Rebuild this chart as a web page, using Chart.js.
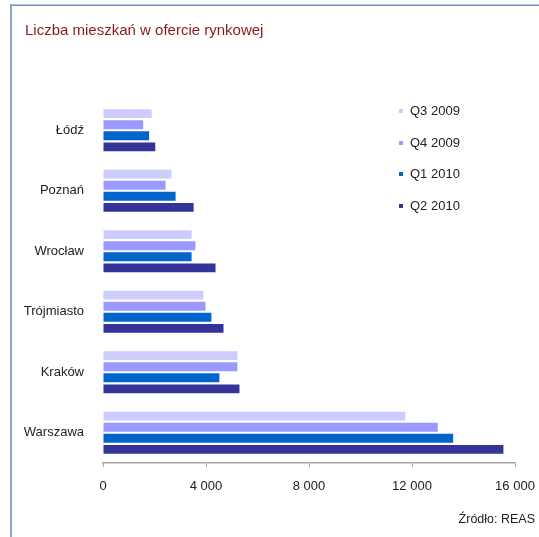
<!DOCTYPE html>
<html>
<head>
<meta charset="utf-8">
<script src="https://cdn.jsdelivr.net/npm/chart.js@4/dist/chart.umd.min.js"></script>
<style>
  html, body { margin: 0; padding: 0; background: #ffffff; }
  #wrap { position: relative; width: 539px; height: 537px; }
  canvas { display: block; }
</style>
</head>
<body>
<div id="wrap"><canvas id="c" width="539" height="537"></canvas></div>
<script>
const chartTitle = "Liczba mieszkań w ofercie rynkowej";
const sourceText = "Źródło: REAS";
const cities = ["Łódź", "Poznań", "Wrocław", "Trójmiasto", "Kraków", "Warszawa"];
const seriesNames = ["Q3 2009", "Q4 2009", "Q1 2010", "Q2 2010"];
const q3_2009 = [1890, 2660, 3440, 3900, 5220, 11740];
const q4_2009 = [1560, 2430, 3590, 3980, 5220, 13000];
const q1_2010 = [1790, 2820, 3440, 4210, 4520, 13600];
const q2_2010 = [2030, 3520, 4370, 4680, 5300, 15550];
const xTicks = [0, 4000, 8000, 12000, 16000];
const seriesColors = ["#ccccff", "#9999ff", "#0066cc", "#333399"];

const seriesValues = [q3_2009, q4_2009, q1_2010, q2_2010];
const FONT = "'Liberation Sans', Arial, Helvetica, sans-serif";

function fmt(v) {
  return String(v).replace(/\B(?=(\d{3})+(?!\d))/g, " ");
}

const decorPlugin = {
  id: 'decor',
  afterDraw(chart) {
    const ctx = chart.ctx;
    ctx.save();
    // frame
    ctx.fillStyle = '#b9c7df';
    ctx.fillRect(11, 4, 528, 1);
    ctx.fillStyle = '#6f8cc0';
    ctx.fillRect(11, 5, 528, 1);
    ctx.fillStyle = '#8ea3cb';
    ctx.fillRect(10, 4, 2, 533);
    // title
    ctx.fillStyle = '#8c1a1a';
    ctx.font = "15px " + FONT;
    ctx.textBaseline = 'middle';
    ctx.textAlign = 'left';
    ctx.fillText(chartTitle, 25, 31);
    // legend
    const ys = [111, 143, 174, 206];
    ctx.font = "13px " + FONT;
    chart.data.datasets.forEach((ds, i) => {
      ctx.fillStyle = ds.backgroundColor;
      ctx.fillRect(399, ys[i] - 2, 4, 4);
      ctx.fillStyle = '#222222';
      ctx.fillText(ds.label, 410, ys[i]);
    });
    // source
    ctx.textAlign = 'right';
    ctx.font = "12.5px " + FONT;
    ctx.fillStyle = '#222222';
    ctx.fillText(sourceText, 535, 520);
    ctx.restore();
  }
};

new Chart(document.getElementById('c'), {
  type: 'bar',
  data: {
    labels: cities,
    datasets: seriesNames.map((name, i) => ({
      label: name,
      data: seriesValues[i],
      backgroundColor: seriesColors[i],
      borderWidth: 0,
      categoryPercentage: 0.73,
      barPercentage: 0.8
    }))
  },
  options: {
    indexAxis: 'y',
    responsive: false,
    animation: false,
    devicePixelRatio: 1,
    layout: { padding: { left: 0, right: 24, top: 100, bottom: 34 } },
    plugins: {
      legend: { display: false },
      title: { display: false },
      tooltip: { enabled: false }
    },
    scales: {
      x: {
        min: xTicks[0],
        max: xTicks[xTicks.length - 1],
        afterBuildTicks(scale) { scale.ticks = xTicks.map(v => ({ value: v })); },
        afterFit(scale) { scale.height = 40; scale.paddingRight = 0; scale.paddingLeft = 0; },
        grid: { display: true, drawOnChartArea: false, drawTicks: true, tickLength: 4, color: '#a6a6a6' },
        border: { display: true, color: '#a6a6a6', width: 1.5 },
        ticks: {
          padding: 12,
          color: '#222222',
          font: { family: FONT, size: 13 },
          maxRotation: 0,
          callback: (v) => fmt(v)
        }
      },
      y: {
        afterFit(scale) { scale.width = 103; },
        grid: { display: false },
        border: { display: false },
        ticks: {
          padding: 11,
          color: '#222222',
          font: { family: FONT, size: 13 }
        }
      }
    }
  },
  plugins: [decorPlugin]
});
</script>
</body>
</html>
